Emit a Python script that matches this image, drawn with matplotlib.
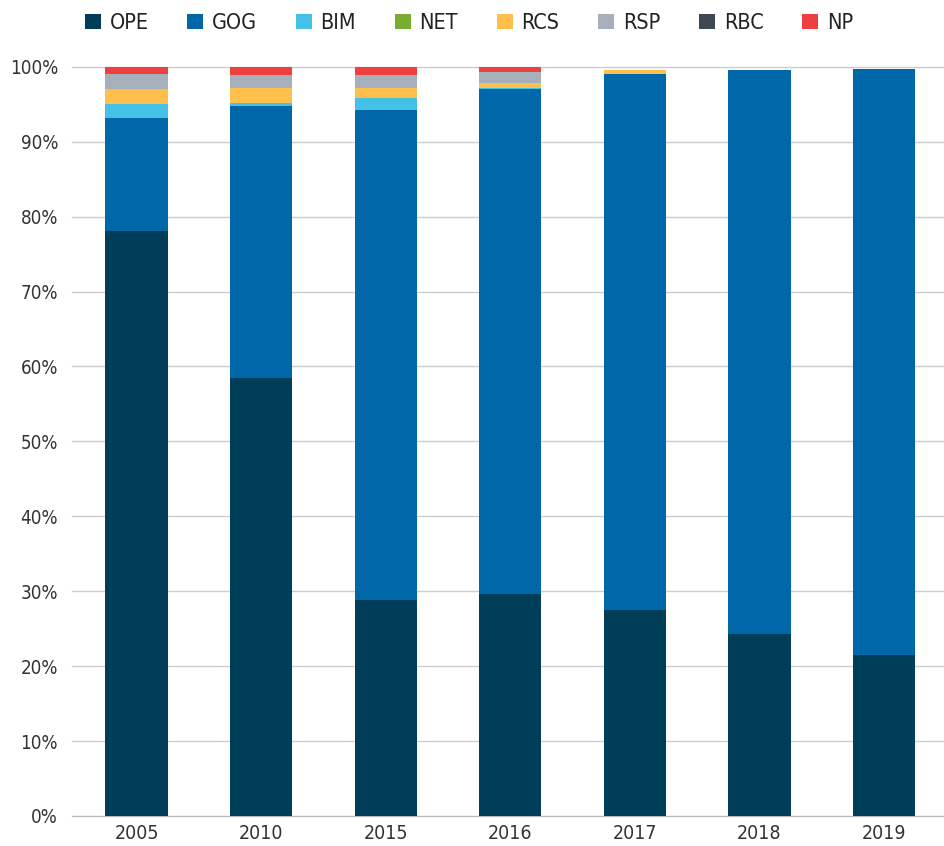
import numpy as np
import matplotlib.pyplot as plt
from matplotlib.patches import Patch

plt.rcParams['font.family'] = ['DejaVu Sans']
plt.rcParams['font.stretch'] = 'condensed'

# Share of each category per year, %
years = ['2005', '2010', '2015', '2016', '2017', '2018', '2019']
ope = [78.1, 58.5, 28.8, 29.6, 27.5, 24.3, 21.5]
gog = [15.1, 36.3, 65.5, 67.5, 71.5, 75.3, 78.2]
bim = [1.8, 0.35, 1.55, 0.1, 0.0, 0.0, 0.0]
net = [0.0, 0.0, 0.0, 0.0, 0.0, 0.0, 0.0]
rcs = [2.1, 2.0, 1.35, 0.6, 0.6, 0.0, 0.0]
rsp = [2.0, 1.8, 1.65, 1.5, 0.0, 0.0, 0.0]
rbc = [0.0, 0.0, 0.0, 0.0, 0.0, 0.0, 0.0]
np_ = [0.9, 1.1, 1.25, 0.8, 0.0, 0.0, 0.0]

series = [
    ('OPE', ope, '#003d58'),
    ('GOG', gog, '#0068a8'),
    ('BIM', bim, '#45c1e8'),
    ('NET', net, '#79ad2f'),
    ('RCS', rcs, '#ffbf4d'),
    ('RSP', rsp, '#a6b0bb'),
    ('RBC', rbc, '#3d4853'),
    ('NP', np_, '#ef4040'),
]

fig = plt.figure(figsize=(9.45, 8.46), dpi=100)
ax = fig.add_axes([0.076, 0.0355, 0.924, 0.8855])

x = np.arange(len(years))
bottom = np.zeros(len(years))
for name, vals, color in series:
    vals = np.array(vals)
    ax.bar(x, vals, width=0.5, bottom=bottom, color=color, edgecolor='none', zorder=3)
    bottom += vals

ax.set_xlim(-0.52, 6.49)
ax.set_ylim(0, 100)
ax.set_yticks(np.arange(0, 101, 10))
ax.set_yticklabels([f'{v}%' for v in range(0, 101, 10)])
ax.set_xticks(x)
ax.set_xticklabels(years)
ax.grid(axis='y', color='#cccccc', linewidth=1, zorder=0)
for gl in ax.get_ygridlines():
    gl.set_clip_on(False)
for s in ['top', 'right', 'left']:
    ax.spines[s].set_visible(False)
ax.spines['bottom'].set_color('#bbbbbb')
ax.tick_params(axis='y', length=0, labelsize=13.5, colors='#333333', pad=10)
ax.tick_params(axis='x', length=0, labelsize=14, colors='#333333', pad=6)

handles = [Patch(facecolor=c, label=n) for n, _, c in series]
fig.legend(handles=handles, loc='upper left', bbox_to_anchor=(0.076, 1.0), ncol=8,
           frameon=False, fontsize=15.5, handlelength=0.75, handleheight=0.75,
           handletextpad=0.4, columnspacing=1.8, labelcolor='#222222',
           borderaxespad=0.2)

fig.savefig('out.png', dpi=100)
